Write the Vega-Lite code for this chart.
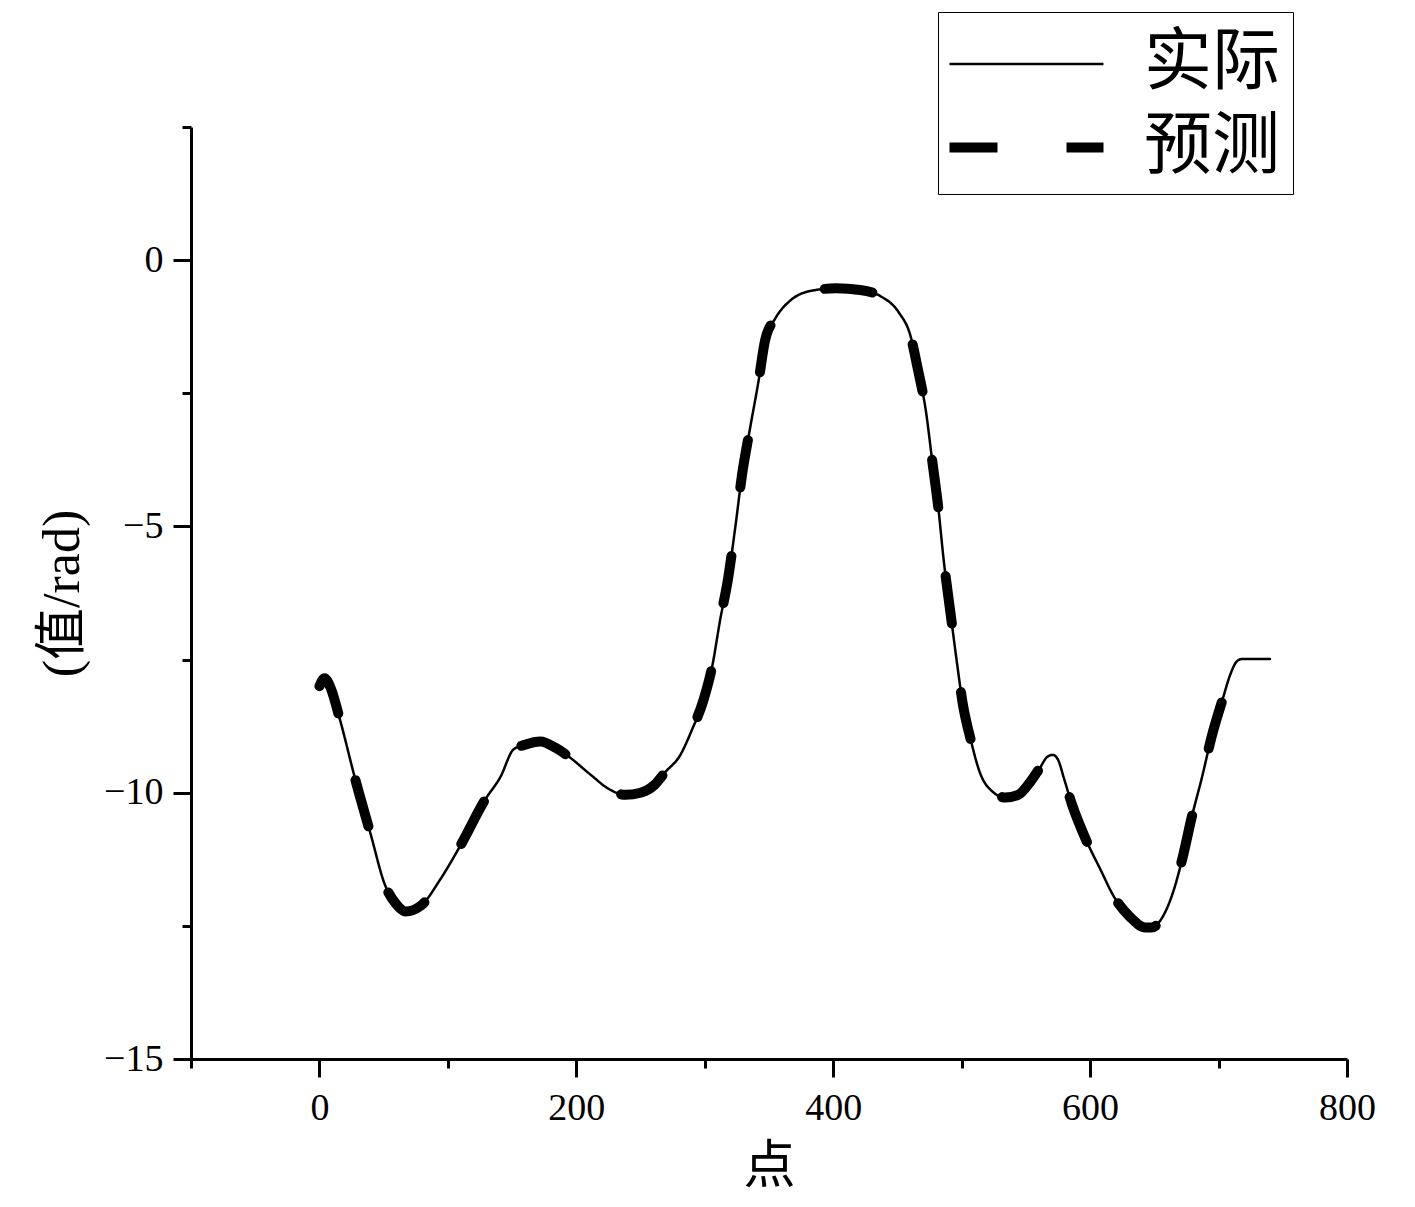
{
  "$schema": "https://vega.github.io/schema/vega-lite/v6.json",
  "width": 1156,
  "height": 932,
  "autosize": {"type": "none"},
  "padding": {"left": 191, "top": 127, "right": 68, "bottom": 148},
  "background": "white",
  "config": {
    "view": {"stroke": null},
    "axis": {
      "domainColor": "black",
      "domainWidth": 3,
      "tickColor": "black",
      "tickWidth": 3,
      "grid": false,
      "labelFont": "Liberation Serif",
      "labelFontSize": 38,
      "labelColor": "black",
      "titleFont": "Liberation Serif, Noto Sans CJK SC",
      "titleFontSize": 52,
      "titleFontWeight": "normal",
      "titleColor": "black"
    },
    "legend": {
      "orient": "none", "legendX": 747, "legendY": -115, "title": null,
      "symbolType": "M-2,0H2", "symbolSize": 5929, "symbolStrokeColor": "black",
      "symbolOffset": 33,
      "labelFont": "Noto Sans CJK SC", "labelFontSize": 68, "labelColor": "black", "labelOffset": 74,
      "strokeColor": "black", "fillColor": "white", "padding": 12, "rowPadding": 6,
      "labelLimit": 400
    }
  },
  "datasets": {
    "actual": [
      {"x": 0, "y": -8.0}, {"x": 4, "y": -7.85}, {"x": 9, "y": -8.05}, {"x": 16, "y": -8.63},
      {"x": 28, "y": -9.76}, {"x": 40, "y": -10.79}, {"x": 51, "y": -11.73}, {"x": 60, "y": -12.1},
      {"x": 67, "y": -12.23}, {"x": 79, "y": -12.12}, {"x": 94, "y": -11.63}, {"x": 110, "y": -10.98},
      {"x": 129, "y": -10.13}, {"x": 141, "y": -9.7}, {"x": 151, "y": -9.19}, {"x": 160, "y": -9.1},
      {"x": 172, "y": -9.04}, {"x": 184, "y": -9.16}, {"x": 194, "y": -9.32}, {"x": 211, "y": -9.66},
      {"x": 226, "y": -9.94}, {"x": 238, "y": -10.04}, {"x": 250, "y": -10.0}, {"x": 261, "y": -9.85},
      {"x": 269, "y": -9.62}, {"x": 281, "y": -9.29}, {"x": 290, "y": -8.82}, {"x": 299, "y": -8.26},
      {"x": 306, "y": -7.6}, {"x": 312, "y": -6.75}, {"x": 318, "y": -6.0}, {"x": 324, "y": -4.97},
      {"x": 329, "y": -4.03}, {"x": 335, "y": -3.19}, {"x": 342, "y": -2.25}, {"x": 347, "y": -1.5},
      {"x": 355, "y": -1.09}, {"x": 367, "y": -0.75}, {"x": 382, "y": -0.58}, {"x": 402, "y": -0.53},
      {"x": 421, "y": -0.56}, {"x": 437, "y": -0.68}, {"x": 451, "y": -0.98}, {"x": 460, "y": -1.41},
      {"x": 466, "y": -2.06}, {"x": 472, "y": -2.81}, {"x": 477, "y": -3.75}, {"x": 482, "y": -4.69},
      {"x": 486, "y": -5.63}, {"x": 491, "y": -6.57}, {"x": 496, "y": -7.5}, {"x": 501, "y": -8.35},
      {"x": 507, "y": -9.0}, {"x": 514, "y": -9.61}, {"x": 524, "y": -9.98}, {"x": 534, "y": -10.09},
      {"x": 544, "y": -10.04}, {"x": 553, "y": -9.81}, {"x": 561, "y": -9.53}, {"x": 567, "y": -9.32},
      {"x": 571, "y": -9.29}, {"x": 575, "y": -9.38}, {"x": 580, "y": -9.76}, {"x": 586, "y": -10.23},
      {"x": 596, "y": -10.84}, {"x": 608, "y": -11.44}, {"x": 619, "y": -11.97}, {"x": 631, "y": -12.33},
      {"x": 643, "y": -12.53}, {"x": 648, "y": -12.53}, {"x": 656, "y": -12.35}, {"x": 664, "y": -11.91},
      {"x": 672, "y": -11.22}, {"x": 679, "y": -10.47}, {"x": 687, "y": -9.72}, {"x": 695, "y": -8.91},
      {"x": 703, "y": -8.26}, {"x": 709, "y": -7.79}, {"x": 714, "y": -7.54}, {"x": 718, "y": -7.49},
      {"x": 740, "y": -7.49}
    ],
    "predicted": [
      {"x": 0, "y": -8.0}, {"x": 4, "y": -7.85}, {"x": 9, "y": -8.05}, {"x": 16, "y": -8.63},
      {"x": 28, "y": -9.76}, {"x": 40, "y": -10.79}, {"x": 51, "y": -11.73}, {"x": 60, "y": -12.1},
      {"x": 67, "y": -12.23}, {"x": 79, "y": -12.12}, {"x": 94, "y": -11.63}, {"x": 110, "y": -10.98},
      {"x": 129, "y": -10.13}, {"x": 141, "y": -9.7}, {"x": 151, "y": -9.19}, {"x": 160, "y": -9.1},
      {"x": 172, "y": -9.04}, {"x": 184, "y": -9.16}, {"x": 194, "y": -9.32}, {"x": 211, "y": -9.66},
      {"x": 226, "y": -9.94}, {"x": 238, "y": -10.04}, {"x": 250, "y": -10.0}, {"x": 261, "y": -9.85},
      {"x": 269, "y": -9.62}, {"x": 281, "y": -9.29}, {"x": 290, "y": -8.82}, {"x": 299, "y": -8.26},
      {"x": 306, "y": -7.6}, {"x": 312, "y": -6.75}, {"x": 318, "y": -6.0}, {"x": 324, "y": -4.97},
      {"x": 329, "y": -4.03}, {"x": 335, "y": -3.19}, {"x": 342, "y": -2.25}, {"x": 347, "y": -1.5},
      {"x": 355, "y": -1.09}, {"x": 367, "y": -0.75}, {"x": 382, "y": -0.58}, {"x": 402, "y": -0.53},
      {"x": 421, "y": -0.56}, {"x": 437, "y": -0.68}, {"x": 451, "y": -0.98}, {"x": 460, "y": -1.41},
      {"x": 466, "y": -2.06}, {"x": 472, "y": -2.81}, {"x": 477, "y": -3.75}, {"x": 482, "y": -4.69},
      {"x": 486, "y": -5.63}, {"x": 491, "y": -6.57}, {"x": 496, "y": -7.5}, {"x": 501, "y": -8.35},
      {"x": 507, "y": -9.0}, {"x": 514, "y": -9.61}, {"x": 524, "y": -9.98}, {"x": 534, "y": -10.09},
      {"x": 544, "y": -10.04}, {"x": 553, "y": -9.81}, {"x": 561, "y": -9.53}, {"x": 567, "y": -9.32},
      {"x": 571, "y": -9.29}, {"x": 575, "y": -9.38}, {"x": 580, "y": -9.76}, {"x": 586, "y": -10.23},
      {"x": 596, "y": -10.84}, {"x": 608, "y": -11.44}, {"x": 619, "y": -11.97}, {"x": 631, "y": -12.33},
      {"x": 643, "y": -12.53}, {"x": 648, "y": -12.53}, {"x": 656, "y": -12.35}, {"x": 664, "y": -11.91},
      {"x": 672, "y": -11.22}, {"x": 679, "y": -10.47}, {"x": 687, "y": -9.72}, {"x": 695, "y": -8.91},
      {"x": 703, "y": -8.26}, {"x": 709, "y": -7.79}, {"x": 712, "y": -7.62}
    ]
  },
  "layer": [
    {
      "data": {"name": "actual"},
      "transform": [{"calculate": "'实际'", "as": "s"}],
      "mark": {"type": "line", "color": "black", "interpolate": "monotone", "strokeCap": "round", "strokeJoin": "round"},
      "encoding": {
        "x": {"field": "x", "type": "quantitative", "scale": {"domain": [-100, 800], "nice": false, "zero": false},
          "axis": {"title": "点", "values": [-100, 0, 100, 200, 300, 400, 500, 600, 700, 800],
            "labelExpr": "datum.value % 200 === 0 ? datum.label : ''",
            "tickSize": {"condition": {"test": "datum.value % 200 === 0", "value": 18}, "value": 9},
            "labelPadding": 12, "titlePadding": 14, "labelFlush": false}},
        "y": {"field": "y", "type": "quantitative", "scale": {"domain": [-15, 2.5], "nice": false, "zero": false},
          "axis": {"title": "(值/rad)", "values": [-15, -12.5, -10, -7.5, -5, -2.5, 0, 2.5],
            "labelExpr": "datum.value % 5 === 0 ? datum.label : ''",
            "tickSize": {"condition": {"test": "datum.value % 5 === 0", "value": 18}, "value": 9},
            "labelPadding": 10, "titlePadding": 14, "labelFlush": false}},
        "strokeDash": {"field": "s", "type": "nominal", "scale": {"domain": ["实际", "预测"], "range": [[1, 0], [48, 69]]}},
        "strokeWidth": {"field": "s", "type": "nominal", "scale": {"domain": ["实际", "预测"], "range": [2.5, 10]}}
      }
    },
    {
      "data": {"name": "predicted"},
      "transform": [{"calculate": "'预测'", "as": "s"}],
      "mark": {"type": "line", "color": "black", "interpolate": "monotone", "strokeCap": "round", "strokeJoin": "round"},
      "encoding": {
        "x": {"field": "x", "type": "quantitative"},
        "y": {"field": "y", "type": "quantitative"},
        "strokeDash": {"field": "s", "type": "nominal"},
        "strokeWidth": {"field": "s", "type": "nominal"}
      }
    }
  ]
}
